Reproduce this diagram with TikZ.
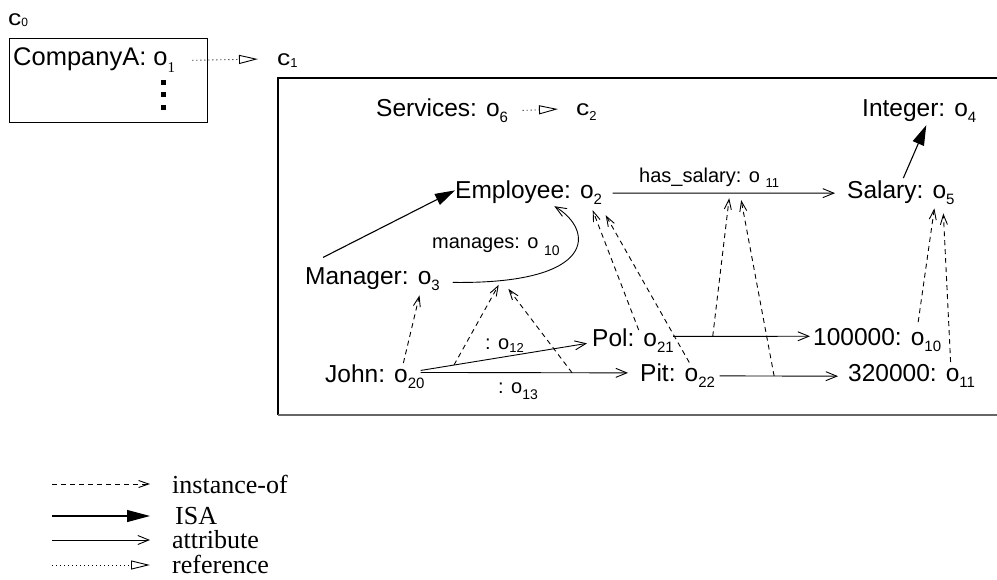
\documentclass[tikz,border=0pt]{standalone}
\usepackage{fontspec}
\setmainfont{Liberation Sans}
\newfontfamily\legendfont{Liberation Serif}
\usetikzlibrary{arrows.meta}
% lowered subscript: [drop]{size}{text}
\newcommand\lsub[3][6.5]{\raisebox{-#1pt}{\fontsize{#2}{#2}\selectfont #3}}
% wide context letter
\newcommand\ctxc{\scalebox{1.2}[1]{c}}
\begin{document}
\begin{tikzpicture}[x=1pt,y=-1pt,
  obj/.style={inner sep=0pt, anchor=base west, font=\fontsize{24.5}{28}\selectfont},
  lab/.style={inner sep=0pt, anchor=base west, font=\fontsize{20}{24}\selectfont},
  cls/.style={inner sep=0pt, anchor=base west, font=\fontsize{22}{24}\selectfont},
  leg/.style={inner sep=0pt, anchor=base west, font=\legendfont\fontsize{26}{28}\selectfont},
  isa/.style={line width=1.1pt, -{Triangle[length=20pt,width=12pt]}},
  attr/.style={line width=0.9pt, -{Straight Barb[length=11pt,width=9pt]}},
  inst/.style={line width=0.9pt, dash pattern=on 5pt off 4pt, -{Straight Barb[length=10pt,width=7pt]}},
  refr/.style={line width=0.9pt, dash pattern=on 1pt off 3pt, -{Triangle[open,length=19pt,width=9pt]}},
]
\useasboundingbox (0,0) rectangle (997,579);

% ---- context c0 ----
\node[cls] (c0) at (8,25) {\ctxc\lsub[1]{12}{0}};
\node[draw, line width=0.9pt, inner sep=0pt, anchor=north west,
      minimum width=198pt, minimum height=84pt] (box0) at (9,38) {};
\node[inner sep=0pt, anchor=base west, font=\fontsize{25.5}{29}\selectfont] (comp) at (13,65)
  {CompanyA: o\lsub[7]{15}{\legendfont 1}};
\fill (160.5,80) rectangle (165.5,85);
\fill (160.5,92) rectangle (165.5,97);
\fill (160.5,105) rectangle (165.5,110);

% ---- context c1 ----
\node[cls] (c1) at (277,65) {\ctxc\lsub[2]{13}{1}};
\draw[line width=1.1pt] (997,78) -- (278,78) -- (278,415);
\draw[line width=2.5pt, black!60] (277.5,415) -- (997,415);

% objects
\node[obj] (serv) at (376,116) {Services: o\lsub{15}{6}};
\node[cls] (c2) at (576,115) {\ctxc\lsub[5]{13}{2}};
\node[obj] (int) at (862,116) {Integer: o\lsub{15}{4}};
\node[obj] (emp) at (455,198) {Employee: o\lsub{15}{2}};
\node[obj] (sal) at (847,198) {Salary: o\lsub{15}{5}};
\node[obj] (mgr) at (305,284) {Manager: o\lsub{15}{3}};
\node[obj] (john) at (325,382) {John: o\lsub{15}{20}};
\node[obj] (pol) at (592,346) {Pol: o\lsub{15}{21}};
\node[obj] (pit) at (640,381) {Pit: o\lsub{15}{22}};
\node[obj] (n100) at (813,345) {100000: o\lsub{15}{10}};
\node[obj] (n320) at (848,381) {320000: o\lsub{15}{11}};

% attribute labels
\node[lab] (lhs) at (639,182) {has\_salary: o \lsub[5]{13}{11}};
\node[lab] (lmg) at (432,248) {manages: o \lsub[7]{14}{10}};
\node[lab] (l12) at (485,349) {: o\lsub[3]{13}{12}};
\node[lab] (l13) at (498,393) {: o\lsub[6]{14}{13}};

% references
\draw[refr] ([shift={(17,0.7)}]comp.east) -- ([shift={(-19,-1)}]c1.west);
\draw[refr] ([shift={(14.5,0)}]serv.east) -- ([shift={(-18,-2.5)}]c2.west);

% ISA
\draw[isa] ([shift={(18,-9.5)}]mgr.north west) -- ([shift={(0,-2)}]emp.west);
\draw[isa] ([shift={(2.5,-2)}]sal.north) -- ([shift={(7,2.5)}]int.south);

% attributes
\draw[attr] ([shift={(10.5,0.7)}]emp.east) -- ([shift={(-12,0.7)}]sal.west)
  coordinate[pos=0.524] (h1) coordinate[pos=0.578] (h2);
\draw[attr] ([shift={(12.8,3.5)}]mgr.east) .. controls +(145,2) and +(40,24) ..
  ([shift={(25.7,1.5)}]emp.south) coordinate[pos=0.12] (m1) coordinate[pos=0.15] (m2);
\draw[attr] ([shift={(-4,-6)}]john.east) -- ([shift={(-5,3)}]pol.west) coordinate[pos=0.2] (a12);
\draw[attr] ([shift={(-4,-4)}]john.east) -- ([shift={(-12,-2.5)}]pit.west) coordinate[pos=0.73] (a13);
\draw[attr] ([shift={(-1,-4)}]pol.east) -- ([shift={(-3,-3.5)}]n100.west) coordinate[pos=0.29] (a21);
\draw[attr] ([shift={(4.5,0.5)}]pit.east) -- ([shift={(-10,0.5)}]n320.west) coordinate[pos=0.46] (a22);

% instance-of
\draw[inst] ([shift={(28.5,-1)}]john.north) -- ([shift={(47,4.5)}]mgr.south);
\draw[inst] (a12) -- ([shift={(0,4)}]m1);
\draw[inst] (a13) -- ([shift={(0,9)}]m2);
\draw[inst] ([shift={(5.7,2)}]pol.north) -- ([shift={(-9.5,5.5)}]emp.south east);
\draw[inst] ([shift={(11.7,-0.5)}]pit.north) -- ([shift={(3.5,10.5)}]emp.south east);
\draw[inst] (a21) -- ([shift={(0,5)}]h1);
\draw[inst] (a22) -- ([shift={(0,7)}]h2);
\draw[inst] ([shift={(41,-5.6)}]n100.north) -- ([shift={(33.5,3.5)}]sal.south);
\draw[inst] ([shift={(39,-1.6)}]n320.north) -- ([shift={(42.5,8.5)}]sal.south);

% ---- legend ----
\coordinate (k1a) at (52,484); \coordinate (k1b) at (150,484);
\coordinate (k2a) at (52,516); \coordinate (k2b) at (150,516);
\coordinate (k3a) at (52,540); \coordinate (k3b) at (150,540);
\coordinate (k4a) at (52,565); \coordinate (k4b) at (150,565);
\draw[inst] (k1a) -- (k1b);
\draw[isa, -{Triangle[length=23pt,width=12pt]}] (k2a) -- (k2b);
\draw[attr] (k3a) -- (k3b);
\draw[refr] (k4a) -- (k4b);
\node[leg] (t1) at (172,493) {instance-of};
\node[leg] (t2) at (175,524) {ISA};
\node[leg] (t3) at (172,548) {attribute};
\node[leg] (t4) at (172,573) {reference};
\end{tikzpicture}
\end{document}
